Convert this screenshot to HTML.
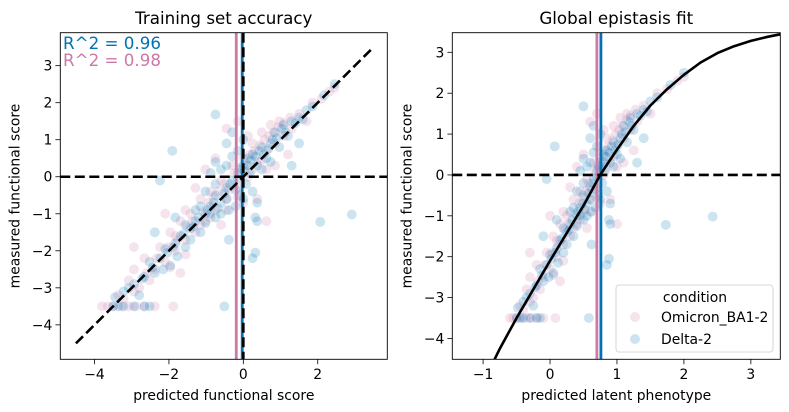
<!DOCTYPE html>
<html><head><meta charset="utf-8"><style>
body{margin:0;background:#fff}
svg{display:block;font-family:"DejaVu Sans","Liberation Sans",sans-serif}
</style></head><body>
<svg id="c" width="789" height="412"></svg>
<script>
// Data: [latent phenotype, measured functional score]
const deltaPoints=[[-0.5,-3.5],[-0.45,-3.5],[-0.4,-3.5],[-0.3,-3.5],[-0.2,-3.5],[-0.15,-3.5],[-0.48,-3.25],[-0.4,-3.1],[-0.3,-2.9],[-0.25,-3.2],[-0.2,-2.7],[-0.1,-2.6],[-0.15,-2.3],[-0.05,-2.2],[0,-1.95],[0.05,-2.4],[0.1,-1.8],[0.15,-1.6],[0.2,-1.9],[0.25,-1.4],[0.3,-1.2],[0.35,-1.5],[0.4,-1.0],[0.45,-0.8],[0.5,-1.1],[0.5,-0.5],[0.55,-0.7],[0.6,-0.3],[0.62,-0.9],[0.65,-0.1],[0.7,0.1],[0.72,-0.5],[0.75,0.3],[0.78,-0.2],[0.8,0.5],[0.82,0.1],[0.85,0.6],[0.9,0.3],[0.95,0.8],[1.0,0.5],[1.05,0.9],[1.1,1.2],[1.15,0.8],[1.2,1.4],[1.25,1.1],[1.3,1.5],[1.4,1.6],[1.5,1.8],[1.6,1.9],[1.8,2.2],[2.0,2.5],[0.55,0.2],[0.5,0.4],[0.6,0.9],[0.65,1.2],[0.45,0.1],[0.4,-0.4],[0.35,-0.8],[0.7,0.7],[0.75,1.0],[0.3,-0.9],[0.2,-1.3],[0.1,-1.1],[-0.1,-1.5],[0.85,-0.4],[0.9,-0.7],[1.3,0.3],[1.4,0.9],[0.07,0.7],[0.5,1.68],[-0.05,-0.1],[2.43,-1.02],[1.73,-1.22],[0.58,-3.5],[0.88,-2.05],[0.85,-2.2],[0.62,-1.7],[0.88,-1.1],[0.9,-1.2],
[-0.35,-3.0],[-0.22,-2.75],[-0.12,-2.45],[0.02,-2.05],[0.08,-1.9],[0.18,-1.55],[0.28,-1.35],[0.33,-1.1],[0.42,-0.9],[0.48,-0.7],[0.52,-0.85],[0.58,-0.45],[0.6,-0.6],[0.63,-0.2],[0.68,-0.35],[0.7,-0.05],[0.72,0.2],[0.76,0.15],[0.8,0.3],[0.83,0.45],[0.88,0.55],[0.92,0.7],[0.97,0.6],[1.02,0.75],[1.07,1.0],[1.12,1.05],[1.18,1.3],[1.22,1.2],[1.35,1.45],[1.45,1.55],[0.4,-1.25],[0.45,-1.0],[0.55,-1.0],[0.25,-1.7],[0.12,-2.15],[-0.02,-2.5],[0.65,0.55],[0.6,0.3],[0.5,-0.2],[0.68,-0.8],[0.75,-0.6],[0.95,0.2],[1.05,0.4]];
const omicronPoints=[[-0.6,-3.5],[-0.55,-3.5],[-0.5,-3.5],[-0.42,-3.5],[-0.35,-3.5],[-0.28,-3.5],[-0.2,-3.5],[-0.1,-3.5],[0.08,-3.5],[-0.45,-3.2],[-0.35,-2.8],[-0.3,-2.5],[-0.25,-3.0],[-0.2,-2.2],[-0.1,-2.5],[-0.05,-1.9],[0,-2.3],[0.05,-1.5],[0.1,-2.0],[0.15,-1.2],[0.2,-1.7],[0.25,-1.0],[0.3,-1.5],[0.35,-0.6],[0.4,-1.2],[0.45,-0.4],[0.5,-0.9],[0.55,-0.1],[0.6,-0.6],[0.65,0.3],[0.7,-0.3],[0.75,0.5],[0.8,0.0],[0.85,0.9],[0.9,0.4],[0.95,1.2],[1.0,0.7],[1.05,1.4],[1.1,0.9],[1.15,1.5],[1.2,1.1],[1.3,1.3],[1.4,1.7],[1.5,1.5],[1.6,2.0],[1.75,2.1],[1.9,2.3],[2.0,2.4],[0.7,1.5],[0.6,1.3],[0.8,1.1],[1.0,0.2],[1.1,0.3],[0.9,-0.6],[0.3,-0.3],[0.2,-0.9],[0.1,-1.6],[-0.15,-2.8],[-0.3,-1.9],[1.0,-1.2],[0.75,-0.7],[1.25,0.6],[0.4,0.2],[0.5,0.5],[0.55,-1.3],[0.0,-1.0],[0.15,-2.6],
[-0.4,-3.3],[-0.3,-3.1],[-0.18,-2.6],[-0.08,-2.2],[0.03,-1.9],[0.12,-1.7],[0.22,-1.35],[0.27,-1.2],[0.38,-0.95],[0.43,-0.7],[0.48,-0.55],[0.53,-0.4],[0.58,-0.2],[0.62,-0.35],[0.67,0.1],[0.72,0.25],[0.78,0.35],[0.82,0.6],[0.87,0.7],[0.93,0.85],[0.98,1.0],[1.03,1.1],[1.08,1.2],[1.14,1.35],[1.2,1.45],[1.28,1.6],[0.35,-1.3],[0.45,-1.1],[0.6,-0.9],[0.7,-0.55],[0.85,0.2],[0.95,0.45],[0.2,-2.1],[0.05,-2.45]];
const curveX=[-0.9,-0.75,-0.5,-0.25,0,0.25,0.5,0.75,1,1.25,1.5,1.75,2,2.25,2.5,2.75,3,3.25,3.5];
const curveY=[-4.75,-4.25,-3.5,-2.8,-2.1,-1.42,-0.75,0,0.62,1.2,1.7,2.1,2.45,2.75,2.98,3.15,3.28,3.38,3.46];
const leftVLines={omicron:-0.19,delta:-0.03};
const rightVLines={omicron:0.70,delta:0.76};
const r2Values=["R^2 = 0.96","R^2 = 0.98"];
const leftXTicks=[-4,-2,0,2], leftYTicks=[-4,-3,-2,-1,0,1,2,3];
const rightXTicks=[-1,0,1,2,3], rightYTicks=[-4,-3,-2,-1,0,1,2,3];

const PINK="#cc79a7", BLUE="#0173b2", NS="http://www.w3.org/2000/svg";
const svg=document.getElementById('c');
function mk(tag,attrs,parent,name){const e=document.createElementNS(NS,tag);for(const k in attrs)e.setAttribute(k,attrs[k]);


(parent||svg).appendChild(e);return e;}
function g(x){
  if(x<=curveX[0])return curveY[0];
  for(let i=1;i<curveX.length;i++)if(x<=curveX[i]){const t=(x-curveX[i-1])/(curveX[i]-curveX[i-1]);return curveY[i-1]+t*(curveY[i]-curveY[i-1]);}
  return curveY[curveY.length-1];}
function axes(L,R,T,B,x0,x1,y0,y1){return{L,R,T,B,sx:v=>L+(v-x0)/(x1-x0)*(R-L),sy:v=>B-(v-y0)/(y1-y0)*(B-T)};}
const A1=axes(60.3,387.3,32.7,359.3,-4.92,3.87,-4.93,3.89);
const A2=axes(452.3,780.3,32.7,359.3,-1.46,3.44,-4.51,3.48);
const FS=13.9;
function frame(A,xt,yt,title,xl,yl,pre){
  mk('text',{x:(A.L+A.R)/2,y:24,'text-anchor':'middle','font-size':16.7},null,pre+'-title').textContent=title;
  xt.forEach(v=>{const x=A.sx(v);mk('line',{x1:x,x2:x,y1:A.B,y2:A.B+4.9,stroke:'#000','stroke-width':0.8},null,pre+'-x-tick');
    mk('text',{x:x,y:A.B+19.5,'text-anchor':'middle','font-size':FS},null,pre+'-x-tick-label').textContent=v<0?'\u2212'+(-v):v;});
  yt.forEach(v=>{const y=A.sy(v);mk('line',{x1:A.L-4.9,x2:A.L,y1:y,y2:y,stroke:'#000','stroke-width':0.8},null,pre+'-y-tick');
    mk('text',{x:A.L-8,y:y+5,'text-anchor':'end','font-size':FS},null,pre+'-y-tick-label').textContent=v<0?'\u2212'+(-v):v;});
  mk('text',{x:(A.L+A.R)/2,y:400,'text-anchor':'middle','font-size':FS},null,pre+'-x-axis-title').textContent=xl;
  const cy=(A.T+A.B)/2, cx=A.L-41;
  mk('text',{x:cx,y:cy,'text-anchor':'middle','font-size':FS,transform:`rotate(-90 ${cx} ${cy})`},null,pre+'-y-axis-title').textContent=yl;
}
function clip(A,id){const d=mk('clipPath',{id:id},null,id);mk('rect',{x:A.L,y:A.T,width:A.R-A.L,height:A.B-A.T},d,id+'-rect');}
clip(A1,'c1');clip(A2,'c2');
function pts(A,data,col,left,gp,name){data.forEach(p=>{const xv=left?g(p[0]):p[0];
  mk('circle',{cx:A.sx(xv),cy:A.sy(p[1]),r:5,fill:col,'fill-opacity':0.2,stroke:'#fff','stroke-width':0.5,'stroke-opacity':0.3},gp,name);});}
const DASH='10 4.5', LW=2.6;
const g1=mk('g',{'clip-path':'url(#c1)'},null,'left-plot-area');
pts(A1,omicronPoints,PINK,true,g1,'omicron-point');
pts(A1,deltaPoints,BLUE,true,g1,'delta-point');
mk('line',{x1:A1.sx(leftVLines.omicron),x2:A1.sx(leftVLines.omicron),y1:A1.T,y2:A1.B,stroke:PINK,'stroke-width':2.8},g1,'omicron-mean-line');
mk('line',{x1:A1.sx(leftVLines.delta),x2:A1.sx(leftVLines.delta),y1:A1.T,y2:A1.B,stroke:BLUE,'stroke-width':2.8},g1,'delta-mean-line');
mk('line',{x1:A1.sx(0),x2:A1.sx(0),y1:A1.T,y2:A1.B,stroke:'#000','stroke-width':LW,'stroke-dasharray':DASH},g1,'zero-vline');
mk('line',{x1:A1.L,x2:A1.R,y1:A1.sy(0),y2:A1.sy(0),stroke:'#000','stroke-width':LW,'stroke-dasharray':DASH},g1,'zero-hline');
mk('line',{x1:A1.sx(-4.5),y1:A1.sy(-4.5),x2:A1.sx(3.5),y2:A1.sy(3.5),stroke:'#000','stroke-width':LW,'stroke-dasharray':DASH},g1,'identity-line');
mk('rect',{x:A1.L,y:A1.T,width:A1.R-A1.L,height:A1.B-A1.T,fill:'none',stroke:'#000','stroke-width':0.9},null,'left-axes-frame');
mk('text',{x:63,y:49,'font-size':16.7,fill:BLUE},null,'delta-r2').textContent=r2Values[0];
mk('text',{x:63,y:66,'font-size':16.7,fill:PINK},null,'omicron-r2').textContent=r2Values[1];
frame(A1,leftXTicks,leftYTicks,'Training set accuracy','predicted functional score','measured functional score','left');

const g2=mk('g',{'clip-path':'url(#c2)'},null,'right-plot-area');
pts(A2,omicronPoints,PINK,false,g2,'omicron-point');
pts(A2,deltaPoints,BLUE,false,g2,'delta-point');
mk('line',{x1:A2.sx(rightVLines.omicron),x2:A2.sx(rightVLines.omicron),y1:A2.T,y2:A2.B,stroke:PINK,'stroke-width':2.8},g2,'omicron-mean-line');
mk('line',{x1:A2.sx(rightVLines.delta),x2:A2.sx(rightVLines.delta),y1:A2.T,y2:A2.B,stroke:BLUE,'stroke-width':2.8},g2,'delta-mean-line');
mk('line',{x1:A2.L,x2:A2.R,y1:A2.sy(0),y2:A2.sy(0),stroke:'#000','stroke-width':LW,'stroke-dasharray':DASH},g2,'zero-hline');
let d='';curveX.forEach((x,i)=>{d+=(i?'L':'M')+A2.sx(x).toFixed(1)+' '+A2.sy(curveY[i]).toFixed(1);});
mk('path',{d:d,fill:'none',stroke:'#000','stroke-width':LW,'stroke-linejoin':'round'},g2,'epistasis-curve');
mk('rect',{x:A2.L,y:A2.T,width:A2.R-A2.L,height:A2.B-A2.T,fill:'none',stroke:'#000','stroke-width':0.9},null,'right-axes-frame');
frame(A2,rightXTicks,rightYTicks,'Global epistasis fit','predicted latent phenotype','measured functional score','right');

const lg=mk('g',{},null,'legend');
mk('rect',{x:616,y:285,width:157,height:67,rx:3,fill:'#fff','fill-opacity':0.8,stroke:'#ccc','stroke-width':0.8},lg,'legend-box');
mk('text',{x:695,y:302,'text-anchor':'middle','font-size':FS},lg,'legend-title').textContent='condition';
mk('circle',{cx:635,cy:317,r:5,fill:PINK,'fill-opacity':0.2},lg,'legend-omicron-marker');
mk('text',{x:661,y:322,'font-size':FS},lg,'legend-omicron-label').textContent='Omicron_BA1-2';
mk('circle',{cx:635,cy:339,r:5,fill:BLUE,'fill-opacity':0.2},lg,'legend-delta-marker');
mk('text',{x:661,y:344,'font-size':FS},lg,'legend-delta-label').textContent='Delta-2';
</script>
</body></html>
